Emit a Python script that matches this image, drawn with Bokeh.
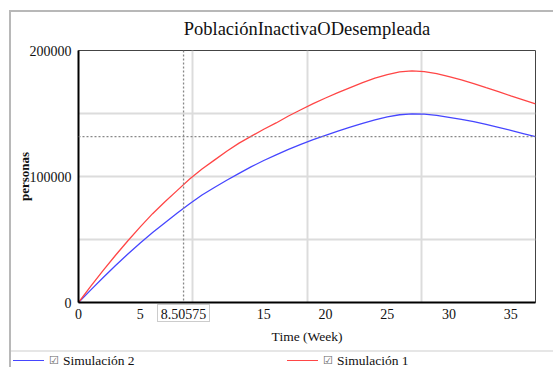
from bokeh.plotting import figure
from bokeh.layouts import column
from bokeh.models import Range1d, FixedTicker, NumeralTickFormatter, Span, Div
from bokeh.embed import file_html
from bokeh.resources import INLINE

# ---------------- data ----------------
weeks = list(range(38))
sim1 = [0, 13000, 25500, 37500, 49000, 60000, 70500, 80000, 89000, 98000,
        106000, 113000, 120000, 126500, 132000, 137500, 142500, 148000, 153000, 157800,
        162300, 166500, 170500, 174500, 178000, 180800, 183000, 183800, 183300, 181700,
        179300, 176700, 173800, 170500, 167300, 164000, 160800, 157600]
sim2 = [0, 10000, 19800, 29300, 38500, 47300, 55500, 63300, 71000, 78300,
        85300, 91300, 97000, 102500, 107800, 112700, 117200, 121500, 125500, 129200,
        132700, 136000, 139200, 142200, 145000, 147300, 149000, 149700, 149500, 148500,
        147000, 145400, 143500, 141300, 139000, 136600, 134100, 131600]
x_ticks = [0, 5, 15, 20, 25, 30, 35]
y_ticks = [0, 100000, 200000]
x_grid = [9.25, 18.5, 27.75]
y_grid = [50000, 100000, 150000]
cursor_time = 8.50575
cursor_value = 131600
title_text = "PoblaciónInactivaODesempleada"
x_label = "Time (Week)"
y_label = "personas"
series_names = ["Simulación 2", "Simulación 1"]

# ---------------- layout ----------------
W = 553
H_MAIN, H_LEG = 352, 15
FL, FR, FT, FB = 78, 535, 50, 302
SERIF = "Liberation Serif"
RED = "#ff4646"
BLUE = "#4646ff"
CHROME = "#b8b8b8"


def bar(color, x, y, w, h):
    return "linear-gradient(%s,%s) %dpx %dpx / %dpx %dpx no-repeat" % (color, color, x, y, w, h)


p = figure(width=W, height=H_MAIN, x_range=Range1d(0, 37), y_range=Range1d(0, 200000),
           title=title_text, output_backend="svg", toolbar_location=None,
           min_border_left=FL, min_border_right=W - FR,
           min_border_top=FT, min_border_bottom=H_MAIN - FB)
p.background_fill_color = "white"
p.border_fill_color = None
p.outline_line_color = "#444444"
p.outline_line_width = 1
# window chrome + cursor value box, painted behind the transparent border area
p.styles = {"background": ", ".join([
    bar(CHROME, 10, 10, 543, 2),
    bar(CHROME, 9, 10, 2, 342),
    bar("#e6e6e6", 10, 350, 543, 2),
    bar("#cccccc", 157, 304, 53, 1),
    bar("#cccccc", 157, 321, 53, 1),
    bar("#cccccc", 157, 304, 1, 18),
    bar("#cccccc", 209, 304, 1, 18),
    "white"])}

p.title.text_font = SERIF
p.title.text_font_size = "18.5px"
p.title.text_font_style = "normal"
p.title.text_color = "#111111"
p.title.align = "center"
p.title.standoff = 23

for ax in (p.xaxis[0], p.yaxis[0]):
    ax.axis_line_color = "black"
    ax.axis_line_width = 2
    ax.major_tick_line_color = None
    ax.minor_tick_line_color = None
    ax.major_label_text_font = SERIF
    ax.major_label_text_font_size = "14px"
    ax.major_label_text_color = "#111111"
    ax.axis_label_text_font = SERIF
    ax.axis_label_text_color = "#111111"
p.xaxis.major_label_standoff = 0
p.yaxis.major_label_standoff = 1

all_x_ticks = sorted(x_ticks + [cursor_time])
p.xaxis.ticker = FixedTicker(ticks=all_x_ticks)
p.xaxis.major_label_overrides = {t: "%g" % t for t in all_x_ticks}
p.yaxis.ticker = FixedTicker(ticks=y_ticks)
p.yaxis.formatter = NumeralTickFormatter(format="0")

p.xaxis.axis_label = x_label
p.xaxis.axis_label_text_font_size = "13.5px"
p.xaxis.axis_label_text_font_style = "normal"
p.xaxis.axis_label_standoff = 7
p.yaxis.axis_label = y_label
p.yaxis.axis_label_text_font_size = "13px"
p.yaxis.axis_label_text_font_style = "bold"
p.yaxis.axis_label_standoff = -5

p.xgrid.ticker = FixedTicker(ticks=x_grid)
p.ygrid.ticker = FixedTicker(ticks=y_grid)
for g in (p.xgrid[0], p.ygrid[0]):
    g.grid_line_color = "#dcdcdc"
    g.grid_line_width = 2

# cursor lines
p.add_layout(Span(location=cursor_time, dimension="height", line_color="#888888",
                  line_dash="2 2", line_width=1.3))
p.add_layout(Span(location=cursor_value, dimension="width", line_color="#888888",
                  line_dash="2 2", line_width=1.3))

p.line(weeks, sim2, line_color=BLUE, line_width=1.3)
p.line(weeks, sim1, line_color=RED, line_width=1.3)

# ---------------- legend strip (HTML row under the chart) ----------------
leg_x = [13, 287]
leg_colors = [BLUE, RED]
parts = []
for lx, col, name in zip(leg_x, leg_colors, series_names):
    parts.append('<span style="position:absolute;left:%dpx;top:8px;width:31px;height:0;'
                 'border-top:1.3px solid %s;"></span>' % (lx, col))
    parts.append('<span style="position:absolute;left:%dpx;top:1px;line-height:15px;'
                 'font-family:\'DejaVu Sans\';font-size:11px;color:#666666;">&#9745;</span>'
                 % (lx + 36))
    parts.append('<span style="position:absolute;left:%dpx;top:1px;line-height:15px;'
                 'white-space:nowrap;">%s</span>' % (lx + 50, name))
html = ('<div style="position:relative;width:%dpx;height:%dpx;font-family:\'%s\';'
        'font-size:13.5px;color:#111111;">%s</div>' % (W, H_LEG, SERIF, "".join(parts)))
leg = Div(text=html, width=W, height=H_LEG,
          styles={"background": ", ".join([bar(CHROME, 9, 0, 2, H_LEG), "white"]),
                  "margin": "0", "padding": "0"})

layout = column(p, leg, spacing=0)
open("out.html", "w").write(file_html(layout, INLINE))
